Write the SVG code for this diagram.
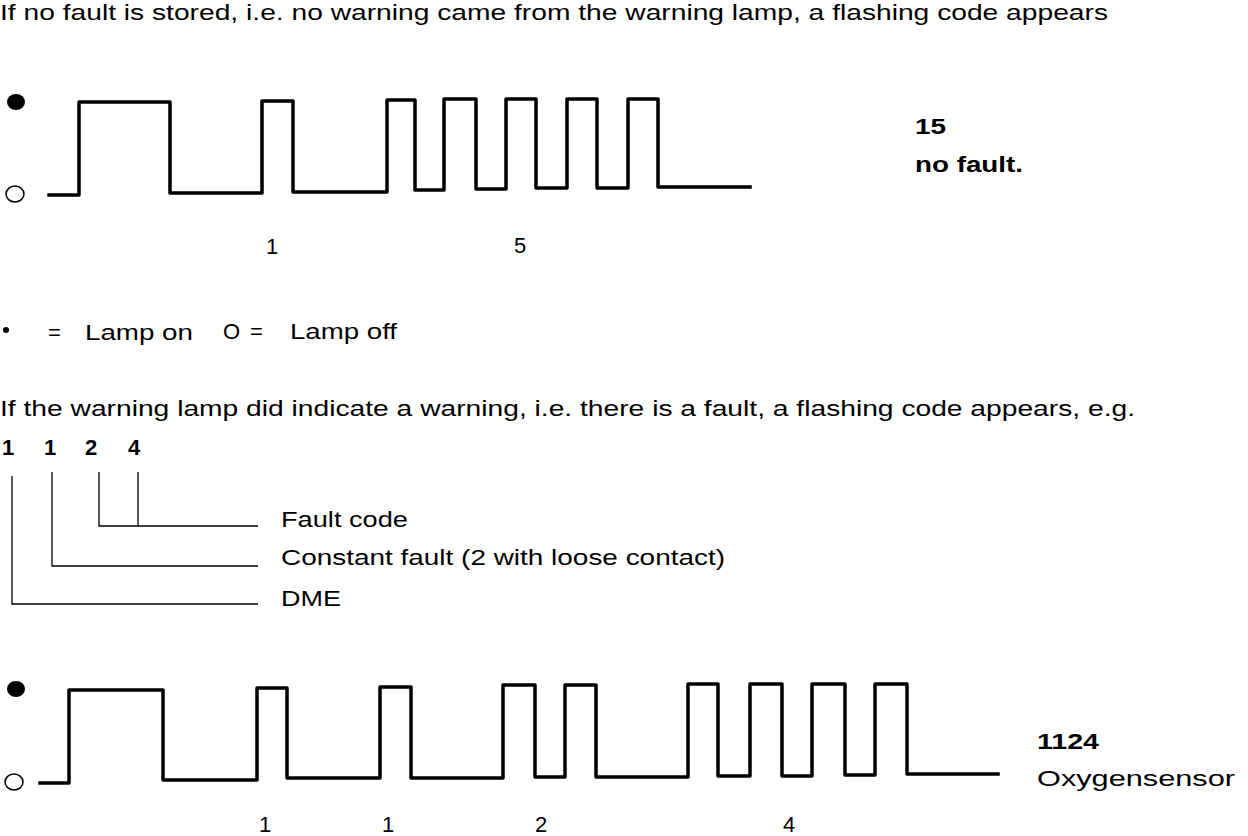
<svg xmlns="http://www.w3.org/2000/svg" width="1248" height="836" viewBox="0 0 1248 836">
<style>
.t{font-family:"Liberation Sans",Arial,sans-serif;font-size:22px;fill:#000}
.b{font-weight:bold}
.w{fill:none;stroke:#000;stroke-width:3.5;stroke-linejoin:round;stroke-linecap:square}
.l{fill:none;stroke:#000;stroke-width:1.3}
</style>
<rect width="1248" height="836" fill="#fff"/>
<text class="t" x="0" y="20" textLength="1108" lengthAdjust="spacingAndGlyphs">If no fault is stored, i.e. no warning came from the warning lamp, a flashing code appears</text>

<g id="wave1">
<ellipse cx="16" cy="102" rx="9" ry="8" fill="#000"/>
<ellipse cx="15" cy="194" rx="9" ry="8" fill="none" stroke="#000" stroke-width="1.5"/>
<polyline class="w" points="49,195 79,195 79,102 170,102 170,193 262,193 262,101 293,101 293,192 387,192 387,100 415,100 415,190 444,190 444,99 476,99 476,189 506,189 506,99 536,99 536,188 567,188 567,99 597,99 597,188 628,188 628,99 658,99 658,187 750,187"/>
<text class="t" x="266" y="254">1</text>
<text class="t" x="514" y="253">5</text>
</g>
<g id="label1">
<text class="t b" x="915" y="134" textLength="31" lengthAdjust="spacingAndGlyphs">15</text>
<text class="t b" x="915" y="172" textLength="108" lengthAdjust="spacingAndGlyphs">no fault.</text>
</g>

<g id="legend">
<circle cx="6" cy="330" r="3" fill="#000"/>
<text class="t" x="48" y="340">=</text>
<text class="t" x="85" y="340" textLength="108" lengthAdjust="spacingAndGlyphs">Lamp on</text>
<text class="t" x="223" y="339">O</text>
<text class="t" x="250" y="339">=</text>
<text class="t" x="290" y="339" textLength="107" lengthAdjust="spacingAndGlyphs">Lamp off</text>
</g>

<text class="t" x="0" y="416" textLength="1135" lengthAdjust="spacingAndGlyphs">If the warning lamp did indicate a warning, i.e. there is a fault, a flashing code appears, e.g.</text>

<g id="code">
<text class="t b" x="2" y="455">1</text>
<text class="t b" x="44" y="455">1</text>
<text class="t b" x="85" y="455">2</text>
<text class="t b" x="128" y="455">4</text>
</g>
<g id="connectors">
<polyline class="l" points="12,476 12,604 258,604"/>
<polyline class="l" points="52,472 52,566 258,566"/>
<polyline class="l" points="99,472 99,526 258,526"/>
<line class="l" x1="138" y1="472" x2="138" y2="526"/>
</g>
<g id="codelabels">
<text class="t" x="281" y="527" textLength="127" lengthAdjust="spacingAndGlyphs">Fault code</text>
<text class="t" x="281" y="565" textLength="444" lengthAdjust="spacingAndGlyphs">Constant fault (2 with loose contact)</text>
<text class="t" x="281" y="606" textLength="60" lengthAdjust="spacingAndGlyphs">DME</text>
</g>

<g id="wave2">
<ellipse cx="16" cy="689" rx="9" ry="8" fill="#000"/>
<ellipse cx="14" cy="782" rx="9" ry="8" fill="none" stroke="#000" stroke-width="1.5"/>
<polyline class="w" points="40,783 69,783 69,690 163,690 163,780 257,780 257,688 287,688 287,778 380,778 380,687 411,687 411,778 503,778 503,685 535,685 535,777 565,777 565,685 596,685 596,777 688,777 688,684 718,684 718,776 750,776 750,684 782,684 782,776 812,776 812,684 845,684 845,775 875,775 875,684 907,684 907,774 998,774"/>
<text class="t" x="259" y="832">1</text>
<text class="t" x="382" y="832">1</text>
<text class="t" x="535" y="832">2</text>
<text class="t" x="783" y="832">4</text>
</g>
<g id="label2">
<text class="t" x="1037" y="749" font-weight="bold" textLength="62" lengthAdjust="spacingAndGlyphs">1124</text>
<text class="t" x="1037" y="786" textLength="198" lengthAdjust="spacingAndGlyphs">Oxygensensor</text>
</g>
</svg>
